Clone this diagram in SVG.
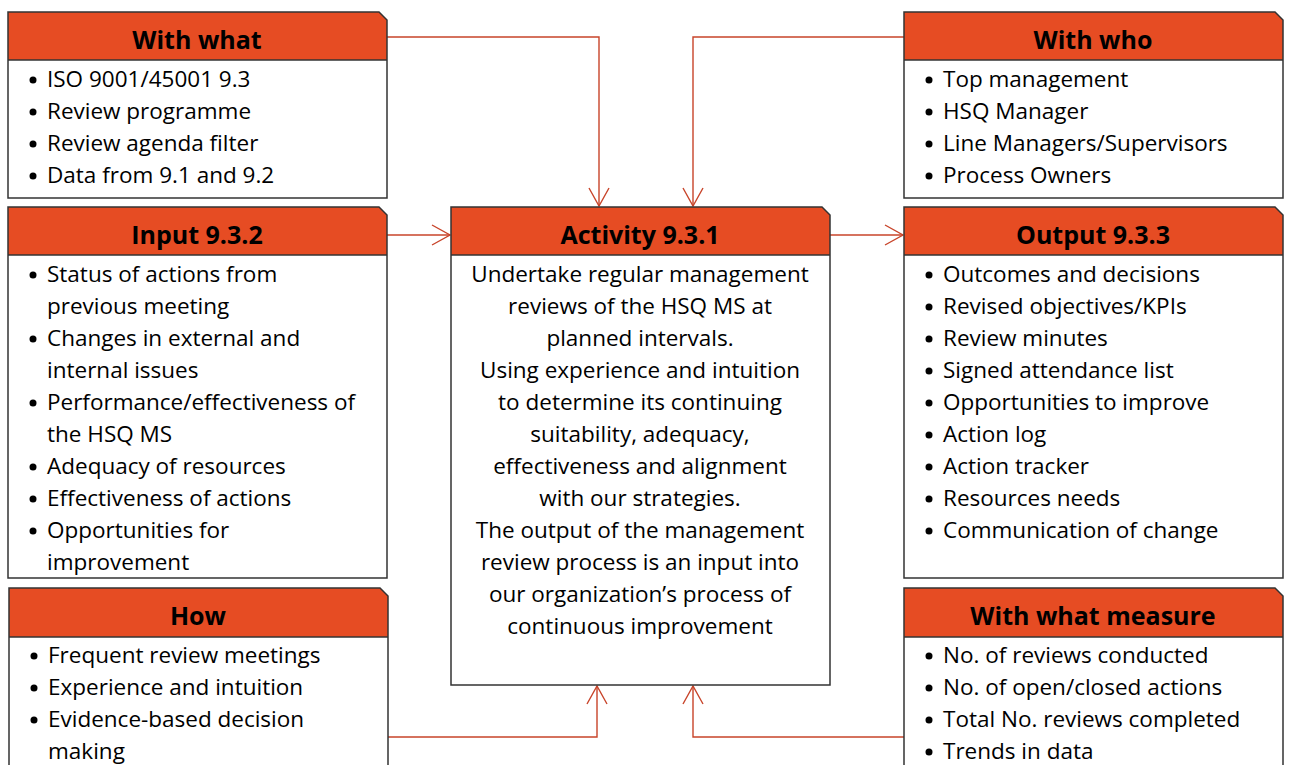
<svg xmlns="http://www.w3.org/2000/svg" width="1290" height="765" viewBox="0 0 1290 765">
<defs>
<style>
.hdr{fill:#E64C23;stroke:none}
.out{fill:none;stroke:#333;stroke-width:1.5}
.sep{stroke:#333;stroke-width:1.5}
.bg{fill:#fff;stroke:none}
.ht{font-family:"Open Sans","Noto Sans",sans-serif;font-weight:bold;font-size:25px;fill:#000;text-anchor:middle}
.bt{font-family:"Open Sans","Noto Sans",sans-serif;font-size:22.5px;fill:#000}
.ct{font-family:"Open Sans","Noto Sans",sans-serif;font-size:22.5px;fill:#000;text-anchor:middle}
.bu{fill:#000;stroke:none}
.cn{fill:none;stroke:#C8442A;stroke-width:1.4}
</style>
<marker id="ah" viewBox="0 0 20 22" refX="19" refY="11" markerWidth="20" markerHeight="22" markerUnits="userSpaceOnUse" orient="auto">
<path d="M1,1 L19,11 L1,21" fill="none" stroke="#C8442A" stroke-width="1.4"/>
</marker>
</defs>
<rect width="1290" height="765" fill="#fff"/>

<g id="connectors">
<path class="cn" d="M387,37 H599 V206" marker-end="url(#ah)"/>
<path class="cn" d="M904,37 H693 V206" marker-end="url(#ah)"/>
<path class="cn" d="M387,235 H450" marker-end="url(#ah)"/>
<path class="cn" d="M830,235 H903" marker-end="url(#ah)"/>
<path class="cn" d="M385,737 H597 V686" marker-end="url(#ah)"/>
<path class="cn" d="M905,737 H693 V686" marker-end="url(#ah)"/>
</g>

<g id="with-what">
<path class="bg" d="M8,12 H379 L387,20 V198 H8 Z"/>
<path class="hdr" d="M8,12 H379 L387,20 V60 H8 Z"/>
<line class="sep" x1="8" y1="60" x2="387" y2="60"/>
<path class="out" d="M8,12 H379 L387,20 V198 H8 Z"/>
<text class="ht" x="197" y="49">With what</text>
<circle class="bu" cx="33" cy="80" r="3.5"/><text class="bt" x="47" y="87">ISO 9001/45001 9.3</text>
<circle class="bu" cx="33" cy="112" r="3.5"/><text class="bt" x="47" y="119">Review programme</text>
<circle class="bu" cx="33" cy="144" r="3.5"/><text class="bt" x="47" y="151">Review agenda filter</text>
<circle class="bu" cx="33" cy="176" r="3.5"/><text class="bt" x="47" y="183">Data from 9.1 and 9.2</text>
</g>

<g id="input">
<path class="bg" d="M8,207 H379 L387,215 V578 H8 Z"/>
<path class="hdr" d="M8,207 H379 L387,215 V255 H8 Z"/>
<line class="sep" x1="8" y1="255" x2="387" y2="255"/>
<path class="out" d="M8,207 H379 L387,215 V578 H8 Z"/>
<text class="ht" x="197" y="244">Input 9.3.2</text>
<circle class="bu" cx="33" cy="275" r="3.5"/><text class="bt" x="47" y="282">Status of actions from</text>
<text class="bt" x="47" y="314">previous meeting</text>
<circle class="bu" cx="33" cy="339" r="3.5"/><text class="bt" x="47" y="346">Changes in external and</text>
<text class="bt" x="47" y="378">internal issues</text>
<circle class="bu" cx="33" cy="403" r="3.5"/><text class="bt" x="47" y="410">Performance/effectiveness of</text>
<text class="bt" x="47" y="442">the HSQ MS</text>
<circle class="bu" cx="33" cy="467" r="3.5"/><text class="bt" x="47" y="474">Adequacy of resources</text>
<circle class="bu" cx="33" cy="499" r="3.5"/><text class="bt" x="47" y="506">Effectiveness of actions</text>
<circle class="bu" cx="33" cy="531" r="3.5"/><text class="bt" x="47" y="538">Opportunities for</text>
<text class="bt" x="47" y="570">improvement</text>
</g>

<g id="how">
<path class="bg" d="M9,588 H380 L388,596 V775 H9 Z"/>
<path class="hdr" d="M9,588 H380 L388,596 V637 H9 Z"/>
<line class="sep" x1="9" y1="637" x2="388" y2="637"/>
<path class="out" d="M9,588 H380 L388,596 V775 H9 Z"/>
<text class="ht" x="198" y="625">How</text>
<circle class="bu" cx="34" cy="656" r="3.5"/><text class="bt" x="48" y="663">Frequent review meetings</text>
<circle class="bu" cx="34" cy="688" r="3.5"/><text class="bt" x="48" y="695">Experience and intuition</text>
<circle class="bu" cx="34" cy="720" r="3.5"/><text class="bt" x="48" y="727">Evidence-based decision</text>
<text class="bt" x="48" y="759">making</text>
</g>

<g id="activity">
<path class="bg" d="M451,207 H822 L830,215 V685 H451 Z"/>
<path class="hdr" d="M451,207 H822 L830,215 V255 H451 Z"/>
<line class="sep" x1="451" y1="255" x2="830" y2="255"/>
<path class="out" d="M451,207 H822 L830,215 V685 H451 Z"/>
<text class="ht" x="640" y="244">Activity 9.3.1</text>
<text class="ct" x="640" y="282">Undertake regular management</text>
<text class="ct" x="640" y="314">reviews of the HSQ MS at</text>
<text class="ct" x="640" y="346">planned intervals.</text>
<text class="ct" x="640" y="378">Using experience and intuition</text>
<text class="ct" x="640" y="410">to determine its continuing</text>
<text class="ct" x="640" y="442">suitability, adequacy,</text>
<text class="ct" x="640" y="474">effectiveness and alignment</text>
<text class="ct" x="640" y="506">with our strategies.</text>
<text class="ct" x="640" y="538">The output of the management</text>
<text class="ct" x="640" y="570">review process is an input into</text>
<text class="ct" x="640" y="602">our organization’s process of</text>
<text class="ct" x="640" y="634">continuous improvement</text>
</g>

<g id="with-who">
<path class="bg" d="M904,12 H1275 L1283,20 V198 H904 Z"/>
<path class="hdr" d="M904,12 H1275 L1283,20 V60 H904 Z"/>
<line class="sep" x1="904" y1="60" x2="1283" y2="60"/>
<path class="out" d="M904,12 H1275 L1283,20 V198 H904 Z"/>
<text class="ht" x="1093" y="49">With who</text>
<circle class="bu" cx="929" cy="80" r="3.5"/><text class="bt" x="943" y="87">Top management</text>
<circle class="bu" cx="929" cy="112" r="3.5"/><text class="bt" x="943" y="119">HSQ Manager</text>
<circle class="bu" cx="929" cy="144" r="3.5"/><text class="bt" x="943" y="151">Line Managers/Supervisors</text>
<circle class="bu" cx="929" cy="176" r="3.5"/><text class="bt" x="943" y="183">Process Owners</text>
</g>

<g id="output">
<path class="bg" d="M904,207 H1275 L1283,215 V578 H904 Z"/>
<path class="hdr" d="M904,207 H1275 L1283,215 V255 H904 Z"/>
<line class="sep" x1="904" y1="255" x2="1283" y2="255"/>
<path class="out" d="M904,207 H1275 L1283,215 V578 H904 Z"/>
<text class="ht" x="1093" y="244">Output 9.3.3</text>
<circle class="bu" cx="929" cy="275" r="3.5"/><text class="bt" x="943" y="282">Outcomes and decisions</text>
<circle class="bu" cx="929" cy="307" r="3.5"/><text class="bt" x="943" y="314">Revised objectives/KPIs</text>
<circle class="bu" cx="929" cy="339" r="3.5"/><text class="bt" x="943" y="346">Review minutes</text>
<circle class="bu" cx="929" cy="371" r="3.5"/><text class="bt" x="943" y="378">Signed attendance list</text>
<circle class="bu" cx="929" cy="403" r="3.5"/><text class="bt" x="943" y="410">Opportunities to improve</text>
<circle class="bu" cx="929" cy="435" r="3.5"/><text class="bt" x="943" y="442">Action log</text>
<circle class="bu" cx="929" cy="467" r="3.5"/><text class="bt" x="943" y="474">Action tracker</text>
<circle class="bu" cx="929" cy="499" r="3.5"/><text class="bt" x="943" y="506">Resources needs</text>
<circle class="bu" cx="929" cy="531" r="3.5"/><text class="bt" x="943" y="538">Communication of change</text>
</g>

<g id="with-what-measure">
<path class="bg" d="M904,588 H1275 L1283,596 V775 H904 Z"/>
<path class="hdr" d="M904,588 H1275 L1283,596 V637 H904 Z"/>
<line class="sep" x1="904" y1="637" x2="1283" y2="637"/>
<path class="out" d="M904,588 H1275 L1283,596 V775 H904 Z"/>
<text class="ht" x="1093" y="625">With what measure</text>
<circle class="bu" cx="929" cy="656" r="3.5"/><text class="bt" x="943" y="663">No. of reviews conducted</text>
<circle class="bu" cx="929" cy="688" r="3.5"/><text class="bt" x="943" y="695">No. of open/closed actions</text>
<circle class="bu" cx="929" cy="720" r="3.5"/><text class="bt" x="943" y="727">Total No. reviews completed</text>
<circle class="bu" cx="929" cy="752" r="3.5"/><text class="bt" x="943" y="759">Trends in data</text>
</g>
</svg>
